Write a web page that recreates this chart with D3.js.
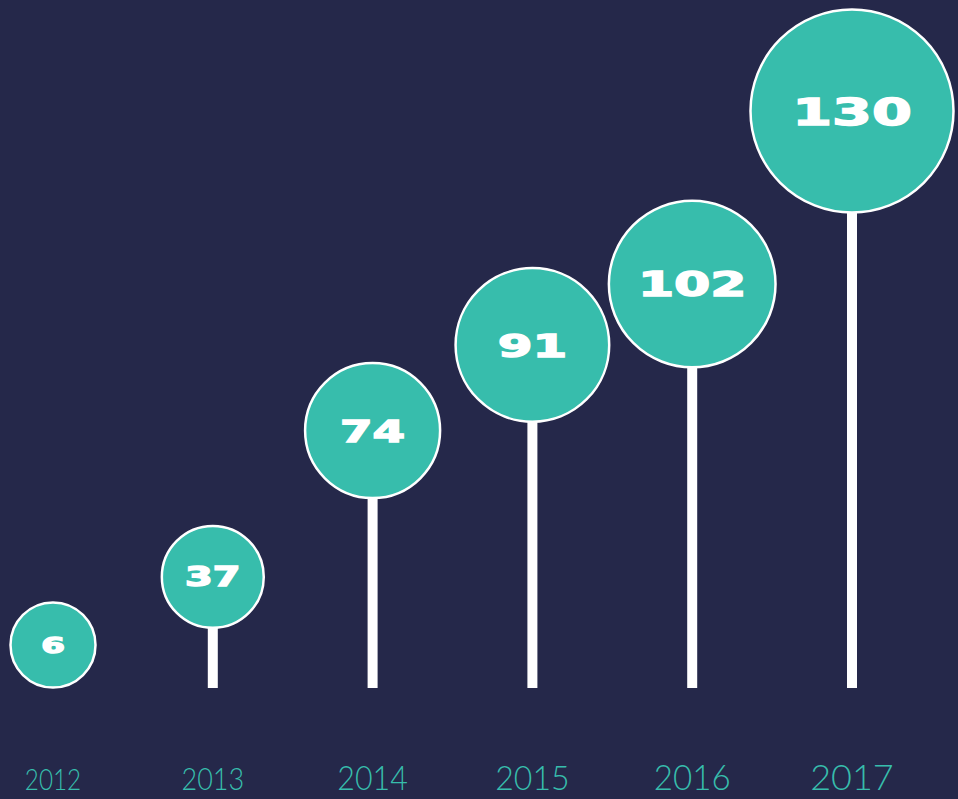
<!DOCTYPE html>
<html>
<head>
<meta charset="utf-8">
<script src="https://cdn.jsdelivr.net/npm/d3@7"></script>
<style>
  html, body { margin: 0; padding: 0; background: #25284a; }
  svg { display: block; }
</style>
</head>
<body>
<svg id="chart" width="958" height="799"></svg>
<script>
// ---- data ----
const years = ["2012", "2013", "2014", "2015", "2016", "2017"];
const values = [6, 37, 74, 91, 102, 130];

// ---- layout ----
const W = 958, H = 799;
const baseY = 688;      // bottom of the stems
const labelY = 790;     // baseline of year labels

const svg = d3.select("#chart");
svg.append("rect").attr("width", W).attr("height", H).attr("fill", "#25284a");

const data = years.map((y, i) => ({ year: y, value: values[i] }));

const x = d3.scalePoint().domain(years).range([53, 852]);
const y = d3.scalePow().exponent(1.6).domain([6, 130]).range([baseY - 43, baseY - 577]);
const r = d3.scalePow().exponent(1.5).domain([6, 130]).range([42.5, 101.5]);
const yearSize = d3.scaleLinear().domain([6, 130]).range([30, 36]);
const yearStretch = d3.scaleLinear().domain([6, 130]).range([0.81, 1.0]);
const capH = d3.scaleLinear().domain([6, 130]).range([16, 27]);

const teal = "#37bdac";

// stems
svg.append("g").selectAll("line").data(data).join("line")
  .attr("x1", d => x(d.year)).attr("x2", d => x(d.year))
  .attr("y1", d => y(d.value)).attr("y2", baseY)
  .attr("stroke", "#ffffff").attr("stroke-width", 10);

// circles
svg.append("g").selectAll("circle").data(data).join("circle")
  .attr("cx", d => x(d.year)).attr("cy", d => y(d.value))
  .attr("r", d => r(d.value))
  .attr("fill", teal).attr("stroke", "#ffffff").attr("stroke-width", 2.5);

// value labels (heavy, extended)
svg.append("g").selectAll("text").data(data).join("text")
  .attr("transform", d => `translate(${x(d.year)},${y(d.value) + capH(d.value) / 2}) scale(1.55,1)`)
  .attr("text-anchor", "middle")
  .attr("font-family", "'DejaVu Sans', sans-serif")
  .attr("font-weight", "bold")
  .attr("font-size", d => capH(d.value) / 0.73)
  .attr("fill", "#ffffff")
  .attr("stroke", "#ffffff").attr("stroke-width", 1.4)
  .attr("stroke-linejoin", "miter")
  .text(d => d.value);

// year labels
svg.append("g").selectAll("text").data(data).join("text")
  .attr("transform", d => `translate(${x(d.year)},${labelY}) scale(${yearStretch(d.value)},1)`)
  .attr("text-anchor", "middle")
  .attr("font-family", "Lato, 'Open Sans', sans-serif")
  .attr("font-weight", 300)
  .attr("font-size", d => yearSize(d.value))
  .attr("fill", teal)
  .text(d => d.year);
</script>
</body>
</html>
